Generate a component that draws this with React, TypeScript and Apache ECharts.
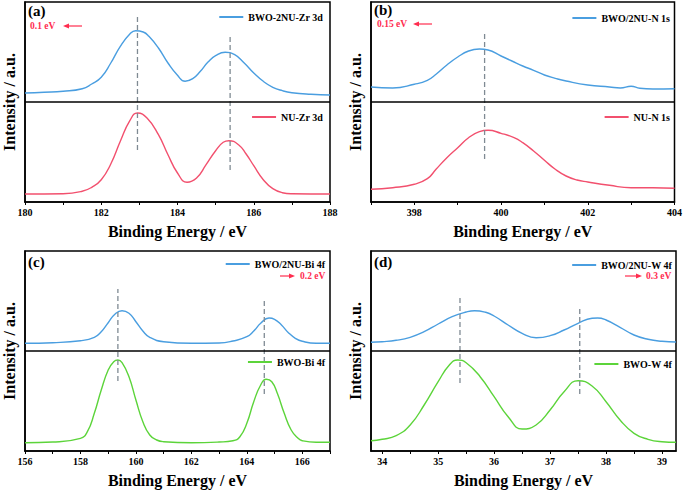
import React, { useEffect, useRef } from "react";
import * as echarts from "echarts";

const FONT = '"Liberation Serif", "Times New Roman", serif';

// ---------- data (intensity on a 0..200 scale per panel, 100 = divider) ----------
// Panel (a) Zr 3d
const aTopE = [180, 180.5, 181, 181.5, 181.75, 182, 182.25, 182.5, 182.75, 182.9, 183.1, 183.25, 183.5, 183.75, 184, 184.2, 184.4, 184.6, 184.8, 185, 185.25, 185.5, 185.75, 186, 186.25, 186.5, 186.75, 187, 187.5, 188];
const aTopI = [109, 109.7, 110.7, 113.3, 118, 124.7, 139, 155.7, 168, 171.3, 170, 165.7, 154, 139, 126.7, 120.7, 123.3, 130.7, 140, 146.3, 149.7, 147.3, 139, 129, 120.7, 114.7, 111.3, 109.3, 107.7, 107];
const aBotE = [180, 181, 181.5, 181.75, 182, 182.25, 182.5, 182.75, 182.95, 183.2, 183.5, 183.75, 184, 184.25, 184.5, 184.75, 185, 185.2, 185.35, 185.6, 185.8, 186, 186.25, 186.5, 186.75, 187, 188];
const aBotI = [8, 8.3, 10.7, 14.7, 22.3, 38, 60.7, 81.3, 89, 84, 67.3, 47.3, 29, 19.7, 24, 37.3, 51.3, 59.7, 61.3, 57.3, 48, 36.3, 22.3, 13.3, 9.3, 8.3, 8];
const aDashE = [182.95, 185.38];
const aDashFrom = [52, 32];
const aDashTo = [187, 167];

// Panel (b) N 1s
const bTopE = [397, 397.5, 398, 398.3, 398.5, 398.75, 399, 399.25, 399.5, 399.7, 400, 400.25, 400.5, 400.75, 401, 401.25, 401.5, 402, 402.5, 402.75, 403, 403.2, 403.5, 404];
const bTopI = [115, 114, 117.7, 121.7, 127.7, 137, 145, 151, 153, 152, 146, 141, 136, 131.7, 127, 123.7, 121, 117, 115, 114, 115.7, 113.7, 113, 113.3];
const bBotE = [397, 397.5, 398, 398.3, 398.5, 398.75, 399, 399.25, 399.5, 399.7, 400, 400.3, 400.5, 400.75, 401, 401.25, 401.5, 401.75, 402, 402.5, 403, 403.5, 404];
const bBotI = [12.7, 14.3, 17.7, 23.3, 32.7, 44.3, 54.3, 64.3, 70.3, 71.7, 68.7, 64.3, 59.3, 51, 41.7, 32.7, 26, 22, 20, 16.7, 14.3, 14.3, 13.7];
const bDashE = [399.62];
const bDashFrom = [43];
const bDashTo = [169];

// Panel (c) Bi 4f
const cTopE = [156, 157, 158, 158.5, 158.75, 159, 159.25, 159.5, 159.75, 160, 160.25, 160.5, 161, 162, 163, 163.5, 164, 164.25, 164.5, 164.8, 165, 165.25, 165.5, 165.75, 166, 166.5, 167];
const cTopI = [107.7, 108.3, 110.3, 113.7, 119.3, 128.3, 137, 140.3, 137.7, 129.3, 120, 113.7, 109.3, 107.7, 108, 110, 114.3, 120, 127.7, 133, 131.7, 126, 118.3, 112.7, 109.7, 107.7, 107.7];
const cBotE = [156, 157, 158, 158.25, 158.5, 158.75, 159, 159.2, 159.35, 159.5, 159.75, 160, 160.25, 160.5, 160.75, 161, 162, 163, 163.5, 163.75, 164, 164.25, 164.5, 164.7, 164.9, 165.1, 165.35, 165.6, 165.85, 166, 166.5, 167];
const cBotI = [8.3, 9, 12.7, 19.3, 37.7, 61, 81, 89.3, 91, 88.3, 74.3, 51, 29.3, 16, 11, 9.3, 8.3, 9, 10.3, 14.3, 27.7, 49.3, 66, 71.7, 69.3, 57.7, 37.7, 21, 12.7, 10.3, 8.7, 8.7];
const cDashE = [159.35, 164.63];
const cDashFrom = [70, 57];
const cDashTo = [162, 152];

// Panel (d) W 4f
const dTopE = [33.8, 34, 34.25, 34.5, 34.75, 35, 35.25, 35.5, 35.65, 35.85, 36, 36.25, 36.5, 36.75, 37, 37.25, 37.5, 37.75, 37.85, 38, 38.25, 38.5, 38.75, 39, 39.25];
const dTopI = [108.7, 109.3, 110.7, 113.7, 119.3, 127, 134.3, 139, 140.3, 138.7, 135, 126, 117.7, 113.3, 115.3, 121, 127.7, 132.7, 133, 131, 123.7, 116, 111.7, 109.7, 109];
const dBotE = [33.8, 34, 34.25, 34.5, 34.75, 35, 35.2, 35.35, 35.5, 35.75, 36, 36.25, 36.5, 36.75, 37, 37.25, 37.5, 37.75, 38, 38.25, 38.5, 38.75, 39, 39.25];
const dBotI = [10.3, 11.7, 15.3, 26, 46, 69.3, 86, 91, 88.3, 74.3, 54.3, 34.3, 22, 26, 41, 59.3, 70.3, 65, 49.3, 31, 17.7, 11.7, 9.3, 8.7];
const dDashE = [35.39, 37.53];
const dDashFrom = [68, 57];
const dDashTo = [154, 143];

// axes
const aTicks = [180, 181, 182, 183, 184, 185, 186, 187, 188];
const aLabels = [180, 182, 184, 186, 188];
const bTicks = [397, 398, 399, 400, 401, 402, 403, 404];
const bLabels = [398, 400, 402, 404];
const cTicks = [156, 157, 158, 159, 160, 161, 162, 163, 164, 165, 166, 167];
const cLabels = [156, 158, 160, 162, 164, 166];
const dTicks = [34, 34.5, 35, 35.5, 36, 36.5, 37, 37.5, 38, 38.5, 39];
const dLabels = [34, 35, 36, 37, 38, 39];

// names / texts
const seriesNames = [
  ["BWO-2NU-Zr 3d", "NU-Zr 3d"],
  ["BWO/2NU-N 1s", "NU-N 1s"],
  ["BWO/2NU-Bi 4f", "BWO-Bi 4f"],
  ["BWO/2NU-W 4f", "BWO-W 4f"],
];
const panelTags = ["(a)", "(b)", "(c)", "(d)"];
const shiftTexts = ["0.1 eV", "0.15 eV", "0.2 eV", "0.3 eV"];

const BLUE = "#4a9ee0";
const RED = "#f2506e";
const GREEN = "#5cd43a";
const DASH = "#7f8a93";
const ANNO = "#ff2d4f";

const zip = (xs: number[], ys: number[]) => xs.map((x, i) => [x, ys[i]]);

export default function App() {
  const ref = useRef<HTMLDivElement>(null);

  useEffect(() => {
    if (!ref.current) return;
    const chart = echarts.init(ref.current, undefined, { renderer: "svg" });

    const panels = [
      {
        grid: { left: 25, top: 2, width: 305, height: 200 },
        min: 180, max: 188, ticks: aTicks, labels: aLabels,
        top: zip(aTopE, aTopI), bot: zip(aBotE, aBotI), botColor: RED,
        dash: { e: aDashE, f: aDashFrom, t: aDashTo },
        legTop: { right: 362, top: 12 }, legBot: { right: 362, top: 112 },
      },
      {
        grid: { left: 371, top: 2, width: 305, height: 200 },
        min: 397, max: 404, ticks: bTicks, labels: bLabels,
        top: zip(bTopE, bTopI), bot: zip(bBotE, bBotI), botColor: RED,
        dash: { e: bDashE, f: bDashFrom, t: bDashTo },
        legTop: { right: 15, top: 13 }, legBot: { right: 15, top: 112 },
      },
      {
        grid: { left: 25, top: 251, width: 305, height: 200 },
        min: 156, max: 167, ticks: cTicks, labels: cLabels,
        top: zip(cTopE, cTopI), bot: zip(cBotE, cBotI), botColor: GREEN,
        dash: { e: cDashE, f: cDashFrom, t: cDashTo },
        legTop: { right: 360, top: 259 }, legBot: { right: 360, top: 357 },
      },
      {
        grid: { left: 371, top: 251, width: 305, height: 200 },
        min: 33.8, max: 39.25, ticks: dTicks, labels: dLabels,
        top: zip(dTopE, dTopI), bot: zip(dBotE, dBotI), botColor: GREEN,
        dash: { e: dDashE, f: dDashFrom, t: dDashTo },
        legTop: { right: 13, top: 260 }, legBot: { right: 13, top: 359 },
      },
    ];

    const grids: any[] = [];
    const xAxes: any[] = [];
    const yAxes: any[] = [];
    const series: any[] = [];
    const legends: any[] = [];

    panels.forEach((p, i) => {
      grids.push({ ...p.grid, show: true, borderColor: "#000", borderWidth: 1.5, containLabel: false });
      xAxes.push({
        type: "value", gridIndex: i, min: p.min, max: p.max,
        axisLine: { show: true, onZero: false, lineStyle: { color: "#000", width: 1.5 } },
        axisTick: { show: true, inside: false, length: 3, customValues: p.ticks, lineStyle: { color: "#000", width: 1 } },
        axisLabel: {
          show: true, customValues: p.labels, margin: 5, color: "#000",
          fontFamily: FONT, fontWeight: "bold", fontSize: 10,
          formatter: (v: number) => String(v),
        },
        splitLine: { show: false },
        name: "Binding Energy / eV", nameLocation: "middle", nameGap: 21,
        nameTextStyle: { fontFamily: FONT, fontWeight: "bold", fontSize: 16, color: "#000" },
      });
      yAxes.push({
        type: "value", gridIndex: i, min: 0, max: 200,
        axisLine: { show: true, lineStyle: { color: "#000", width: 1.5 } },
        axisTick: { show: false }, axisLabel: { show: false }, splitLine: { show: false },
        name: "Intensity / a.u.", nameLocation: "middle", nameGap: 8, nameRotate: 90,
        nameTextStyle: { fontFamily: FONT, fontWeight: "bold", fontSize: 16, color: "#000" },
      });
      const [nTop, nBot] = seriesNames[i];
      series.push({
        name: nTop, type: "line", xAxisIndex: i, yAxisIndex: i, data: p.top,
        symbol: "none", smooth: 0.5, color: BLUE, lineStyle: { color: BLUE, width: 1.4 },
      });
      series.push({
        name: nBot, type: "line", xAxisIndex: i, yAxisIndex: i, data: p.bot,
        symbol: "none", smooth: 0.5, color: p.botColor, lineStyle: { color: p.botColor, width: 1.4 },
        markLine: {
          silent: true, symbol: ["none", "none"], label: { show: false },
          lineStyle: { color: "#000", type: "solid", width: 1.5 },
          data: [{ yAxis: 100 }],
        },
      });
      p.dash.e.forEach((e, k) => {
        series.push({
          type: "line", xAxisIndex: i, yAxisIndex: i, symbol: "none", silent: true,
          data: [[e, p.dash.f[k]], [e, p.dash.t[k]]],
          lineStyle: { color: DASH, type: [5, 3], width: 1.3 },
        });
      });
      const legBase = {
        orient: "horizontal", padding: 0, itemWidth: 24, itemHeight: 2, itemGap: 0,
        icon: "rect",
        textStyle: { fontFamily: FONT, fontWeight: "bold", fontSize: 10, color: "#000" },
        selectedMode: false,
      };
      legends.push({ ...legBase, ...p.legTop, data: [nTop] });
      legends.push({ ...legBase, ...p.legBot, data: [nBot] });
    });

    const tagStyle = { fontFamily: FONT, fontWeight: "bold", fontSize: 15, fill: "#000" };
    const annoStyle = { fontFamily: FONT, fontWeight: "bold", fontSize: 9.5, fill: ANNO };
    const tagPos = [[28, 11], [374, 10], [28, 262], [374, 262]];
    const arrow = (x1: number, x2: number, y: number) => {
      // x2 is the head
      const dir = x2 > x1 ? 1 : -1;
      return [
        { type: "line", shape: { x1, y1: y, x2: x2 - dir * 4, y2: y }, style: { stroke: ANNO, lineWidth: 1.2 } },
        { type: "polygon", shape: { points: [[x2, y], [x2 - dir * 6, y - 2.5], [x2 - dir * 6, y + 2.5]] }, style: { fill: ANNO } },
      ];
    };
    const graphic: any[] = [
      ...panelTags.map((t, i) => ({
        type: "text", x: tagPos[i][0], y: tagPos[i][1],
        style: { ...tagStyle, text: t, verticalAlign: "middle" },
      })),
      { type: "text", x: 30, y: 26, style: { ...annoStyle, text: shiftTexts[0], verticalAlign: "middle" } },
      ...arrow(82, 63, 26),
      { type: "text", x: 377, y: 24, style: { ...annoStyle, text: shiftTexts[1], verticalAlign: "middle" } },
      ...arrow(432, 413, 24),
      { type: "text", x: 300, y: 276, style: { ...annoStyle, text: shiftTexts[2], verticalAlign: "middle" } },
      ...arrow(280, 295, 276),
      { type: "text", x: 646, y: 276, style: { ...annoStyle, text: shiftTexts[3], verticalAlign: "middle" } },
      ...arrow(625, 642, 276),
    ];

    chart.setOption({
      animation: false,
      backgroundColor: "#fff",
      grid: grids,
      xAxis: xAxes,
      yAxis: yAxes,
      series,
      legend: legends,
      graphic,
    });
    return () => chart.dispose();
  }, []);

  return <div ref={ref} style={{ width: 685, height: 492, position: "absolute", left: 0, top: 0 }} />;
}
